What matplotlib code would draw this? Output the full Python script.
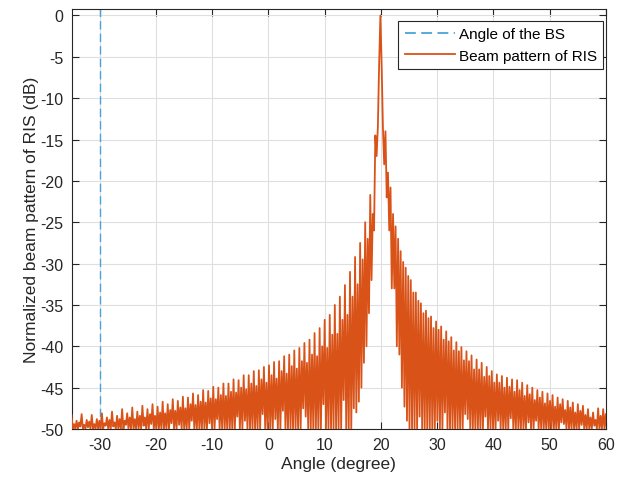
import numpy as np
import matplotlib
matplotlib.use("Agg")
import matplotlib.pyplot as plt

plt.rcParams['font.family'] = ['Liberation Sans', 'DejaVu Sans']
plt.rcParams['axes.unicode_minus'] = False

# ---- data ----
bs_angle = -30.0                      # angle of the BS (deg)
lobe_first, lobe_last, n_lobes = -35.0, 59.5, 106   # angular positions of the lobe tops

# tall lobe-top levels (dB), left to right
lobe_peaks = [
    -48.3, -49.0, -48.2, -48.9, -48.3, -48.8, -48.1, -48.6, -47.9, -48.4,
    -47.6, -48.1, -47.4, -47.9, -47.2, -47.6, -47.0, -47.3, -46.7, -47.0,
    -46.4, -46.6, -46.1, -46.2, -45.7, -45.9, -45.3, -45.4, -44.9, -45.0,
    -44.5, -44.5, -44.0, -44.1, -43.5, -43.5, -43.0, -42.9, -42.5, -42.3,
    -41.9, -41.8, -41.2, -41.0, -40.5, -40.2, -39.6, -39.2, -38.4, -37.8,
    -36.8, -36.2, -35.0, -34.0, -32.6, -31.0, -29.2, -27.5, -25.0, -21.7,
    -14.5, 0.0, -14.0, -20.8, -25.5, -28.5, -30.5, -32.0, -33.5, -34.8,
    -35.7, -36.4, -37.0, -37.6, -38.2, -38.9, -39.5, -40.1, -40.6, -41.1,
    -41.6, -42.0, -42.5, -43.0, -43.4, -43.6, -43.8, -44.0, -44.1, -44.4,
    -44.7, -45.0, -45.3, -45.5, -45.7, -45.9, -46.2, -46.4, -46.6, -46.8,
    -47.0, -47.2, -47.6, -48.0, -47.5, -47.6,
]

# shorter secondary tops (dB), halfway between consecutive tall tops
sub_peaks = [
    -49.4, -49.2, -49.5, -49.1, -49.4, -49.0, -49.3, -48.9, -49.2, -48.8,
    -49.0, -48.6, -48.8, -48.4, -48.6, -48.2, -48.4, -48.0, -48.1, -47.7,
    -47.8, -47.4, -47.5, -47.0, -47.1, -46.7, -46.8, -46.3, -46.4, -45.9,
    -46.0, -45.5, -45.6, -45.0, -45.2, -44.5, -44.8, -44.0, -44.4, -43.5,
    -43.9, -43.0, -43.3, -42.4, -42.7, -41.8, -42.0, -41.0, -41.2, -40.0,
    -40.2, -38.6, -38.5, -36.8, -36.2, -34.0, -32.5, -29.5, -27.0, -24.0,
    -13.5, -13.5, -19.0, -24.0, -27.0, -29.8, -31.5, -33.5, -34.5, -36.0,
    -36.6, -37.8, -38.0, -39.2, -39.4, -40.5, -40.6, -41.7, -41.8, -42.8,
    -42.8, -43.7, -43.6, -44.4, -44.4, -45.0, -44.9, -45.5, -45.3, -46.0,
    -45.8, -46.5, -46.2, -46.9, -46.6, -47.3, -47.0, -47.7, -47.4, -48.0,
    -47.8, -48.3, -48.6, -48.9, -48.4, -48.2,
]

# troughs between each tall top and the following secondary top (dB, floor -50)
troughs_a = [
    -50, -50, -50, -49.8, -50, -50, -50, -50, -49.7, -50,
    -50, -50, -50, -50, -49.6, -50, -50, -50, -50, -50,
    -50, -49.5, -50, -50, -50, -50, -50, -49.3, -50, -50,
    -50, -50, -50, -50, -49.0, -50, -50, -50, -50, -50,
    -48.8, -50, -50, -50, -50, -50, -48.5, -50, -50, -50,
    -50, -50, -50, -50, -50, -50, -48.0, -45.0, -40.0, -32.0,
    -17.0, -6.0, -22.0, -33.0, -40.0, -45.0, -49.0, -50, -50, -50,
    -50, -50, -49.0, -50, -50, -50, -50, -50, -48.8, -50,
    -50, -50, -50, -50, -49.0, -50, -50, -50, -50, -50,
    -49.2, -50, -50, -50, -50, -50, -50, -49.4, -50, -50,
    -50, -50, -50, -49.6, -50, -50,
]

# troughs between each secondary top and the next tall top (dB, floor -50)
troughs_b = [
    -50, -49.7, -50, -50, -50, -50, -49.6, -50, -50, -50,
    -49.5, -50, -50, -50, -50, -49.4, -50, -50, -50, -49.3,
    -50, -50, -50, -49.0, -50, -50, -50, -50, -48.8, -50,
    -50, -50, -48.5, -50, -50, -50, -50, -48.2, -50, -50,
    -50, -47.8, -50, -50, -50, -47.5, -50, -50, -50, -47.0,
    -50, -50, -50, -46.5, -50, -47.5, -46.7, -42.0, -36.0, -26.0,
    -6.0, -18.0, -26.0, -33.0, -41.0, -47.3, -50, -50, -48.5, -50,
    -50, -50, -50, -48.0, -50, -50, -50, -48.2, -50, -50,
    -50, -48.5, -50, -50, -50, -50, -48.7, -50, -50, -50,
    -50, -49.0, -50, -50, -50, -50, -49.2, -50, -50, -50,
    -49.5, -50, -50, -50, -50, -50,
]

x_ticks = [-30, -20, -10, 0, 10, 20, 30, 40, 50, 60]
y_ticks = [0, -5, -10, -15, -20, -25, -30, -35, -40, -45, -50]

# ---- build polyline: tall top, trough, secondary top, trough, ... ----
tops_x = np.linspace(lobe_first, lobe_last, n_lobes)
q = (tops_x[1] - tops_x[0]) / 4.0
x = np.empty(4 * n_lobes)
y = np.empty(4 * n_lobes)
for i, (vals, off) in enumerate([(lobe_peaks, 0), (troughs_a, 1),
                                 (sub_peaks, 2), (troughs_b, 3)]):
    x[i::4] = tops_x + off * q
    y[i::4] = vals

# ---- figure ----
fig = plt.figure(figsize=(6.39, 4.85), dpi=100)
ax_l, ax_r, ax_t, ax_b = 71.5, 606.0, 10.0, 430.0
ax = fig.add_axes([ax_l/639, 1 - ax_b/485, (ax_r-ax_l)/639, (ax_b-ax_t)/485])

ax.axvline(bs_angle, color='#4aa3d8', lw=1.0, ls=(0, (6, 3)),
           label='Angle of the BS', zorder=2)
ax.plot(x, y, color='#D95319', lw=1.3, label='Beam pattern of RIS',
        zorder=3)

ax.set_xlim(-35, 60)
ax.set_ylim(-50, 0.78)
ax.set_xticks(x_ticks)
ax.set_yticks(y_ticks)
ax.grid(True, color='#dfdfdf', lw=0.8)
ax.set_axisbelow(True)

for s in ax.spines.values():
    s.set_color('#262626')
    s.set_linewidth(0.8)
ax.tick_params(direction='in', top=True, right=True, length=5, width=0.8,
               colors='#262626', labelsize=11.5, pad=6)

ax.set_xlabel('Angle (degree)', fontsize=12.5, color='#262626', labelpad=3)
ax.set_ylabel('Normalized beam pattern of RIS (dB)', fontsize=12.5,
              color='#262626', labelpad=1)

leg = ax.legend(loc='upper right',
                bbox_to_anchor=((603-ax_l)/(ax_r-ax_l), (ax_b-22)/(ax_b-ax_t)),
                borderaxespad=0, fontsize=11, handlelength=3.3,
                fancybox=False, framealpha=1, edgecolor='#262626',
                borderpad=0.4, labelspacing=0.5, handletextpad=0.25)
leg.get_frame().set_linewidth(0.8)
for h in leg.get_lines():
    h.set_linewidth(1.3)

fig.savefig('out.png', dpi=100)
